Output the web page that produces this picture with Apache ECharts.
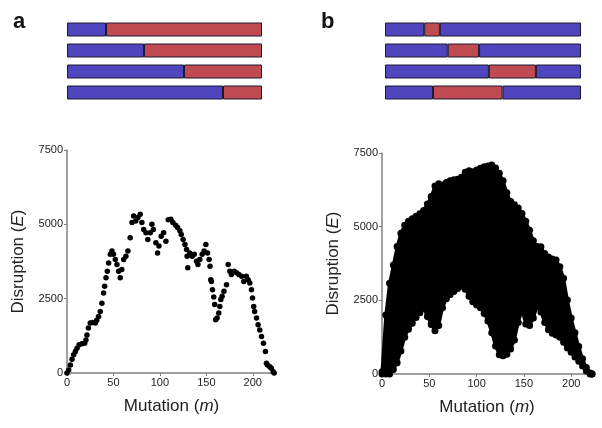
<!DOCTYPE html>
<html>
<head>
<meta charset="utf-8">
<script src="https://cdn.jsdelivr.net/npm/echarts@6/dist/echarts.min.js"></script>
<style>
html,body{margin:0;padding:0;background:#fff}
#main{width:602px;height:428px}
</style>
</head>
<body>
<div id="main"></div>
<script>
// schematic bars (fraction of the sequence)
var rows = ['1', '2', '3', '4'];
var aSplit = [0.2, 0.395, 0.6, 0.8];
var bRedStart = [0.2, 0.32, 0.53, 0.245];
var bRedEnd = [0.28, 0.48, 0.77, 0.6];

var xTicks = [0, 50, 100, 150, 200];
var yTicks = [0, 2500, 5000, 7500];

// panel a: disruption per mutation
var aM = [0, 1.8, 3.6, 5.4, 7.2, 9, 10.8, 13, 16, 19, 20.4, 21.5, 23, 25, 27.6, 30.5, 32, 34, 35.8, 37.6,
  39.4, 40.5, 42, 43.4, 44.8, 46.6, 48.4, 50, 52, 53.8, 55.6, 57.3, 59, 61, 63.4, 65.6, 68, 70, 71.7, 74,
  76.3, 78.8, 80.6, 82.5, 85, 87, 89.6, 91.4, 93, 95.7, 97.5, 99, 101.4, 104, 106.5, 109, 111.8, 114, 117, 119,
  121.5, 123, 125, 127, 128.7, 129.3, 130, 132, 134.8, 137, 139.4, 141, 143, 145.5, 147.6, 149.5, 151.3, 153, 154, 154.8,
  155.5, 156.6, 158, 159, 160, 161.6, 163.4, 164.5, 165.6, 167, 169, 171.7, 173.5, 175.3, 177, 180, 182.5, 185, 188, 190.3,
  193, 195, 196.8, 198.6, 199.7, 201, 202, 204, 205.7, 207.5, 209.4, 211.5, 213.6, 214.7, 215.8, 218.3, 220, 222, 223];
var aE = [0, 100, 270, 460, 610, 720, 830, 950, 980, 1000, 1110, 1280, 1510, 1680, 1700, 1680, 1770, 1900, 2070, 2350,
  2690, 2920, 3200, 3420, 3700, 3990, 4100, 3990, 3820, 3650, 3420, 3200, 3480, 3820, 3930, 4100, 4550, 5060, 5280, 5110,
  5230, 5340, 5060, 4830, 4720, 4490, 4720, 5000, 4830, 4380, 4040, 4270, 4600, 4720, 4430, 5150, 5170, 5060, 4970, 4890,
  4780, 4660, 4490, 4320, 4150, 3930, 3540, 4040, 3930, 3990, 3760, 3650, 3820, 3990, 4100, 4320, 4040, 3820, 3590, 3140,
  3080, 2800, 2560, 2300, 1790, 1850, 2020, 2240, 2470, 2580, 2750, 2970, 3650, 3420, 3310, 3420, 3370, 3310, 3250, 3080,
  3250, 3140, 3030, 2800, 2520, 2240, 2070, 1850, 1620, 1450, 1230, 1000, 720, 330, 270, 210, 160, 40, 0];

// panel b: envelope of the point cloud
var bM = [0, 4, 8, 12, 16, 20, 24, 28, 32, 36, 40, 44, 48, 52, 56, 60, 64, 68, 72, 76,
  80, 84, 88, 92, 96, 100, 104, 108, 112, 116, 120, 124, 128, 132, 136, 140, 144, 148, 152, 156,
  160, 164, 168, 172, 176, 180, 184, 188, 192, 196, 200, 204, 208, 212, 216, 220, 222];
var bUpper = [80, 2000, 3080, 3700, 4330, 4780, 5050, 5180, 5270, 5350, 5440, 5550, 5770, 6020, 6380, 6460, 6410, 6500, 6560, 6590,
  6610, 6680, 6850, 6900, 6860, 6920, 6980, 7030, 7060, 7090, 6990, 6810, 6560, 6150, 5850, 5740, 5630, 5450, 5180, 4880,
  4520, 4330, 4320, 4090, 3970, 3900, 3870, 3640, 3250, 2510, 1900, 1400, 930, 520, 220, 30, 0];
var bLower = [0, 0, 0, 150, 380, 780, 1250, 1520, 1720, 1920, 2080, 2230, 1950, 1680, 1470, 1650, 2250, 2550, 2700, 2800,
  2900, 2980, 2880, 2640, 2450, 2340, 2250, 2050, 1800, 1400, 950, 650, 620, 670, 850, 1150, 1750, 2150, 1700, 1650,
  1900, 2300, 2100, 1750, 1500, 1380, 1320, 1250, 1080, 880, 740, 580, 430, 270, 100, 0, 0];

var blue = '#4f46bf';
var red = '#bf4a52';
var edge = '#1c1830';
var font = 'Liberation Sans, Arial, sans-serif';

var chart = echarts.init(document.getElementById('main'));

function barX(i) {
  return { gridIndex: i, type: 'value', min: 0, max: 1, show: false };
}
function barY(i) {
  return { gridIndex: i, type: 'category', data: rows, inverse: true, show: false };
}
function segment(i, data, color) {
  return {
    type: 'bar', xAxisIndex: i, yAxisIndex: i, stack: 's' + i, data: data,
    barWidth: 14, silent: true,
    itemStyle: { color: color, borderColor: edge, borderWidth: 1 }
  };
}
var richName = { rich: {
  n: { fontSize: 17, fontFamily: font, color: '#222' },
  i: { fontSize: 17, fontFamily: font, color: '#222', fontStyle: 'italic' }
} };
function mutX(i, max) {
  return {
    gridIndex: i, type: 'value', min: 0, max: max, interval: 50,
    name: '{n|Mutation (}{i|m}{n|)}', nameLocation: 'middle', nameGap: 25,
    nameTextStyle: richName,
    axisLine: { lineStyle: { color: '#808080', width: 1.5 } },
    axisTick: { length: 3, customValues: xTicks, lineStyle: { color: '#808080' } },
    axisLabel: { customValues: xTicks, fontSize: 11, fontFamily: font, color: '#222', margin: 4,
      formatter: function (v) { return String(v); } },
    splitLine: { show: false }
  };
}
function disY(i) {
  return {
    gridIndex: i, type: 'value', min: 0, max: 7500, interval: 2500,
    name: '{n|Disruption (}{i|E}{n|)}', nameLocation: 'middle', nameGap: 40, nameRotate: 90,
    nameTextStyle: richName,
    axisLine: { show: true, lineStyle: { color: '#808080', width: 1.5 } },
    axisTick: { show: true, length: 3, customValues: yTicks, lineStyle: { color: '#808080' } },
    axisLabel: { customValues: yTicks, fontSize: 11, fontFamily: font, color: '#222', margin: 4,
      formatter: function (v) { return String(v); } },
    splitLine: { show: false }
  };
}

var bRed = bRedEnd.map(function (e, k) { return e - bRedStart[k]; });
var bRest = bRedEnd.map(function (e) { return 1 - e; });
var aRed = aSplit.map(function (s) { return 1 - s; });

// filled cloud between the lower and upper envelopes
function renderCloud(params, api) {
  var pts = [];
  for (var k = 0; k < bM.length; k++) pts.push(api.coord([bM[k], bUpper[k]]));
  for (var j = bM.length - 1; j >= 0; j--) pts.push(api.coord([bM[j], bLower[j]]));
  return {
    type: 'polygon',
    shape: { points: pts },
    style: { fill: '#000', stroke: '#000', lineWidth: 3, lineJoin: 'round' }
  };
}
var envelope = bM.map(function (m, k) { return [m, bUpper[k]]; })
  .concat(bM.map(function (m, k) { return [m, bLower[k]]; }));

var option = {
  animation: false,
  backgroundColor: '#fff',
  title: [
    { text: 'a', left: 8, top: 6, textStyle: { fontSize: 22, fontWeight: 'bold', fontFamily: font, color: '#111' } },
    { text: 'b', left: 316, top: 6, textStyle: { fontSize: 22, fontWeight: 'bold', fontFamily: font, color: '#111' } }
  ],
  grid: [
    { left: 67, top: 19, width: 195, height: 84 },
    { left: 385, top: 19, width: 196, height: 84 },
    { left: 67, top: 150, width: 209, height: 223 },
    { left: 382, top: 153, width: 210, height: 221 }
  ],
  xAxis: [barX(0), barX(1), mutX(2, 225), mutX(3, 222)],
  yAxis: [barY(0), barY(1), disY(2), disY(3)],
  series: [
    segment(0, aSplit, blue),
    segment(0, aRed, red),
    segment(1, bRedStart, blue),
    segment(1, bRed, red),
    segment(1, bRest, blue),
    {
      type: 'scatter', xAxisIndex: 2, yAxisIndex: 2,
      data: aM.map(function (m, k) { return [m, aE[k]]; }),
      symbolSize: 5.5, itemStyle: { color: '#000', opacity: 1 }
    },
    {
      type: 'custom', xAxisIndex: 3, yAxisIndex: 3,
      data: [[bM[0], bUpper[0]]], renderItem: renderCloud, silent: true
    },
    {
      type: 'scatter', xAxisIndex: 3, yAxisIndex: 3, data: envelope,
      symbolSize: 7, itemStyle: { color: '#000', opacity: 1 }, silent: true
    }
  ]
};
chart.setOption(option);
</script>
</body>
</html>
